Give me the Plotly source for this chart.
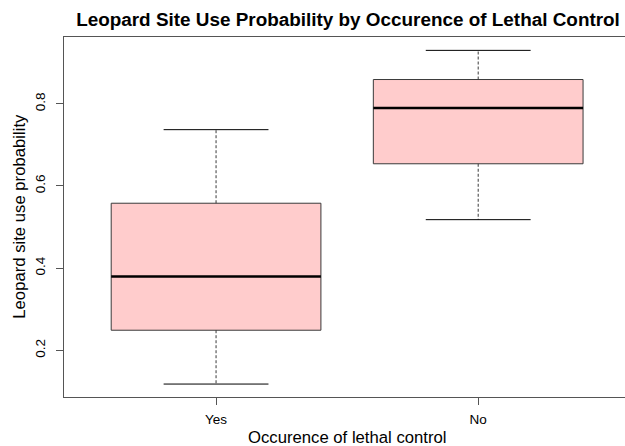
import plotly.graph_objects as go

categories = ["Yes", "No"]
lower_whisker = [0.118, 0.518]
q1 = [0.249, 0.654]
median = [0.380, 0.790]
q3 = [0.558, 0.859]
upper_whisker = [0.737, 0.930]
y_ticks = [0.2, 0.4, 0.6, 0.8]

FILL = "#FFCCCC"
BORDER = "#3a3a3a"
AXIS = "#555555"
FONT = "Liberation Sans, Arial, Helvetica, sans-serif"

fig = go.Figure()
half_box = 0.4
half_cap = 0.2
for i, cat in enumerate(categories):
    p = i + 1
    fig.add_trace(go.Scatter(
        x=[p - half_box, p + half_box, p + half_box, p - half_box, p - half_box],
        y=[q1[i], q1[i], q3[i], q3[i], q1[i]],
        mode="lines", fill="toself", fillcolor=FILL,
        line=dict(color=BORDER, width=1), hoverinfo="skip", showlegend=False))
    fig.add_trace(go.Scatter(
        x=[p - half_box, p + half_box], y=[median[i], median[i]],
        mode="lines", line=dict(color="black", width=2.5),
        hoverinfo="skip", showlegend=False))
    fig.add_trace(go.Scatter(
        x=[p, p, None, p, p],
        y=[q3[i], upper_whisker[i], None, q1[i], lower_whisker[i]],
        mode="lines", line=dict(color=BORDER, width=1, dash="3px,2px"),
        hoverinfo="skip", showlegend=False))
    fig.add_trace(go.Scatter(
        x=[p - half_cap, p + half_cap, None, p - half_cap, p + half_cap],
        y=[upper_whisker[i], upper_whisker[i], None, lower_whisker[i], lower_whisker[i]],
        mode="lines", line=dict(color="black", width=1),
        hoverinfo="skip", showlegend=False))

L, T, B = 64, 37, 49
W, H = 625, 446
pw, ph = W - L, H - T - B

fig.update_layout(
    width=W, height=H,
    margin=dict(l=L, r=0, t=T, b=B),
    paper_bgcolor="white", plot_bgcolor="white",
    font=dict(family=FONT, color="black"),
    title=dict(text="<b>Leopard Site Use Probability by Occurence of Lethal Control</b>",
               x=348 / W, xanchor="center", y=1 - 19 / H, yanchor="middle",
               font=dict(size=18.9, family=FONT, color="black")),
    annotations=[
        dict(text="Occurence of lethal control", xref="paper", yref="paper",
             x=(347.2 - L) / pw, y=(H - B - 437.7) / ph, xanchor="center", yanchor="middle",
             showarrow=False, font=dict(size=16.7, family=FONT, color="black")),
        dict(text="Leopard site use probability", xref="paper", yref="paper",
             x=(20 - L) / pw, y=(H - B - 216.7) / ph, xanchor="center", yanchor="middle",
             textangle=-90, showarrow=False, font=dict(size=16.7, family=FONT, color="black")),
    ],
)
fig.update_xaxes(
    range=[0.42, 2.56], tickvals=[1, 2], ticktext=categories,
    showgrid=False, zeroline=False, automargin=False,
    showline=True, linecolor=AXIS, linewidth=1, mirror=True,
    ticks="outside", ticklen=7, tickcolor=AXIS, ticklabelstandoff=3,
    tickfont=dict(size=13.5, family=FONT),
)
fig.update_yaxes(
    range=[0.0865, 0.9625], tickvals=y_ticks, ticktext=[str(v) for v in y_ticks],
    showgrid=False, zeroline=False, automargin=False, mirror=False,
    showline=True, linecolor=AXIS, linewidth=1,
    ticks="outside", ticklen=7, tickcolor=AXIS, tickangle=-90, ticklabelstandoff=6,
    tickfont=dict(size=13.5, family=FONT),
)

fig.write_html(
    "out.html",
    config={"displayModeBar": False},
    post_script="document.body.style.margin='0';document.body.style.overflow='hidden';",
)
